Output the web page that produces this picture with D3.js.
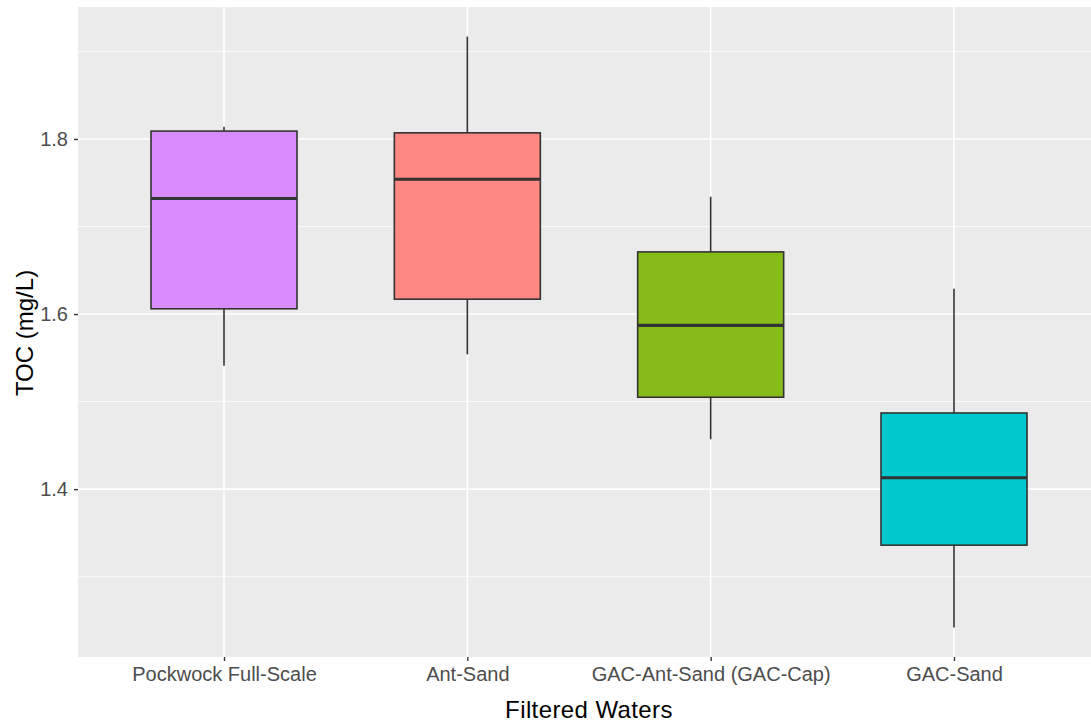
<!DOCTYPE html>
<html>
<head>
<meta charset="utf-8">
<script src="https://cdn.jsdelivr.net/npm/d3@7"></script>
<style>
  body { margin: 0; background: #fff; }
  text { font-family: "Liberation Sans", Arial, sans-serif; }
</style>
</head>
<body>
<div id="chart"></div>
<script>
// categories and box stats
var categories = ["Pockwock Full-Scale", "Ant-Sand", "GAC-Ant-Sand (GAC-Cap)", "GAC-Sand"];
var whiskerLow = [1.541, 1.554, 1.457, 1.242];
var q1 = [1.606, 1.617, 1.505, 1.336];
var median = [1.732, 1.754, 1.587, 1.413];
var q3 = [1.809, 1.807, 1.671, 1.487];
var whiskerHigh = [1.814, 1.917, 1.734, 1.629];
var fills = ["#DA8BFE", "#FE8883", "#86BC1A", "#00C8CD"];
var yTicks = [1.4, 1.6, 1.8];
var yMinor = [1.3, 1.5, 1.7, 1.9];

var W = 1091, H = 721;
var margin = { top: 7, right: -9, bottom: 64, left: 78 },
  width = W - margin.left - margin.right,
  height = H - margin.top - margin.bottom;

var svg = d3.select("#chart")
  .append("svg")
  .attr("width", W)
  .attr("height", H)
  .append("g")
  .attr("transform", "translate(" + margin.left + "," + margin.top + ")");

// y scale, ggplot style 5% expansion
var lo = d3.min(whiskerLow), hi = d3.max(whiskerHigh), pad = (hi - lo) * 0.05;
var y = d3.scaleLinear()
  .domain([lo - pad, hi + pad])
  .range([height, 0]);

// discrete x with 0.6 expansion on each side
var x = d3.scalePoint()
  .domain(categories)
  .range([0, width])
  .padding(0.6);
var step = x.step();
var boxW = step * 0.6;

// panel background
svg.append("rect")
  .attr("width", width)
  .attr("height", height)
  .attr("fill", "#EBEBEB");

// grid
svg.selectAll(".minor")
  .data(yMinor)
  .enter()
  .append("line")
  .attr("x1", 0).attr("x2", width)
  .attr("y1", function (d) { return y(d); })
  .attr("y2", function (d) { return y(d); })
  .attr("stroke", "#fff")
  .attr("stroke-width", 0.8);
svg.selectAll(".major")
  .data(yTicks)
  .enter()
  .append("line")
  .attr("x1", 0).attr("x2", width)
  .attr("y1", function (d) { return y(d); })
  .attr("y2", function (d) { return y(d); })
  .attr("stroke", "#fff")
  .attr("stroke-width", 1.6);
svg.selectAll(".vmajor")
  .data(categories)
  .enter()
  .append("line")
  .attr("y1", 0).attr("y2", height)
  .attr("x1", function (d) { return x(d); })
  .attr("x2", function (d) { return x(d); })
  .attr("stroke", "#fff")
  .attr("stroke-width", 1.6);

// boxes
var boxes = svg.selectAll(".box")
  .data(categories)
  .enter()
  .append("g");

boxes.append("line")
  .attr("x1", function (d) { return x(d); })
  .attr("x2", function (d) { return x(d); })
  .attr("y1", function (d, i) { return y(whiskerHigh[i]); })
  .attr("y2", function (d, i) { return y(q3[i]); })
  .attr("stroke", "#333")
  .attr("stroke-width", 1.6);
boxes.append("line")
  .attr("x1", function (d) { return x(d); })
  .attr("x2", function (d) { return x(d); })
  .attr("y1", function (d, i) { return y(q1[i]); })
  .attr("y2", function (d, i) { return y(whiskerLow[i]); })
  .attr("stroke", "#333")
  .attr("stroke-width", 1.6);
boxes.append("rect")
  .attr("x", function (d) { return x(d) - boxW / 2; })
  .attr("width", boxW)
  .attr("y", function (d, i) { return y(q3[i]); })
  .attr("height", function (d, i) { return y(q1[i]) - y(q3[i]); })
  .attr("fill", function (d, i) { return fills[i]; })
  .attr("stroke", "#333")
  .attr("stroke-width", 1.6);
boxes.append("line")
  .attr("x1", function (d) { return x(d) - boxW / 2; })
  .attr("x2", function (d) { return x(d) + boxW / 2; })
  .attr("y1", function (d, i) { return y(median[i]); })
  .attr("y2", function (d, i) { return y(median[i]); })
  .attr("stroke", "#333")
  .attr("stroke-width", 3.2);

// axes
var yAxis = svg.append("g")
  .call(d3.axisLeft(y).tickValues(yTicks).tickFormat(d3.format(".1f")).tickSize(4).tickPadding(6));
var xAxis = svg.append("g")
  .attr("transform", "translate(0," + height + ")")
  .call(d3.axisBottom(x).tickSize(4).tickPadding(6));
[yAxis, xAxis].forEach(function (a) {
  a.select(".domain").remove();
  a.selectAll(".tick line").attr("stroke", "#333").attr("stroke-width", 1.4);
  a.selectAll(".tick text")
    .attr("fill", "#4D4D4D")
    .style("font-size", "20px")
    .style("font-family", "'Liberation Sans', Arial, sans-serif");
});

// axis titles
svg.append("text")
  .attr("x", width / 2)
  .attr("y", 718 - margin.top)
  .attr("text-anchor", "middle")
  .style("font-size", "24px")
  .style("letter-spacing", "0.4px")
  .attr("fill", "#000")
  .text("Filtered Waters");

svg.append("text")
  .attr("transform", "translate(" + (33 - margin.left) + "," + (333 - margin.top) + ")rotate(-90)")
  .attr("text-anchor", "middle")
  .style("font-size", "24px")
  .attr("fill", "#000")
  .text("TOC (mg/L)");
</script>
</body>
</html>
